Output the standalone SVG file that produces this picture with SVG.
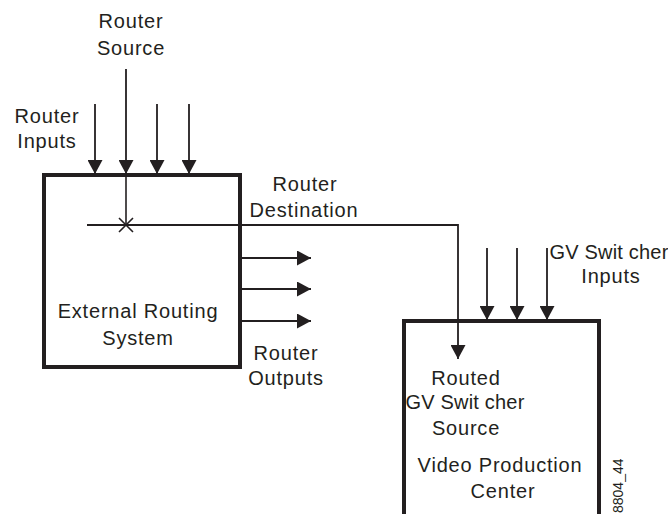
<svg xmlns="http://www.w3.org/2000/svg" width="668" height="514" viewBox="0 0 668 514">
<defs>
<style>
text{font-family:"Liberation Sans",Arial,sans-serif;font-size:20px;letter-spacing:0.8px;fill:#231f20;text-anchor:middle}
.gv{letter-spacing:0.2px}
.box{fill:#fff;stroke:#231f20;stroke-width:4}
.ln{fill:none;stroke:#231f20;stroke-width:1.6}
.arr{fill:none;stroke:#231f20;stroke-width:1.8;marker-end:url(#ah)}
.small{font-size:14px;letter-spacing:0;text-anchor:start}
</style>
<marker id="ah" markerUnits="userSpaceOnUse" markerWidth="14" markerHeight="15" viewBox="0 0 14 15" refX="14" refY="7.5" orient="auto">
<path d="M0,0 L14,7.5 L0,15 Z" fill="#231f20"/>
</marker>
</defs>
<g id="external-routing-system">
<rect class="box" x="44" y="175" width="196" height="192"/>
<text x="138" y="318">External Routing</text>
<text x="138" y="345">System</text>
</g>
<g id="video-production-center">
<rect class="box" x="404" y="321" width="195" height="220"/>
<text x="466" y="385">Routed</text>
<text class="gv" x="465" y="409">GV Swit cher</text>
<text x="466" y="435">Source</text>
<text x="500" y="472">Video Production</text>
<text x="503" y="498">Center</text>
</g>
<g id="labels">
<text x="131" y="28">Router</text>
<text x="131" y="55">Source</text>
<text x="47" y="123">Router</text>
<text x="47" y="148">Inputs</text>
<text x="305" y="191">Router</text>
<text x="304" y="217">Destination</text>
<text x="286" y="360">Router</text>
<text x="286" y="385">Outputs</text>
<text class="gv" x="609" y="259">GV Swit cher</text>
<text x="611" y="283">Inputs</text>
<text class="small" transform="translate(623,513) rotate(-90)">8804_44</text>
</g>
<g id="connectors">
<line class="arr" x1="95" y1="104" x2="95" y2="174"/>
<line class="arr" x1="126" y1="69" x2="126" y2="174"/>
<line class="arr" x1="157" y1="104" x2="157" y2="174"/>
<line class="arr" x1="189" y1="104" x2="189" y2="174"/>
<line class="ln" x1="126" y1="174" x2="126" y2="225"/>
<path class="ln" d="M119,218 L133,232 M119,232 L133,218"/>
<path class="arr" d="M87,225 H458 V359"/>
<line class="arr" x1="241" y1="258" x2="311" y2="258"/>
<line class="arr" x1="241" y1="289" x2="311" y2="289"/>
<line class="arr" x1="241" y1="321" x2="311" y2="321"/>
<line class="arr" x1="487" y1="248" x2="487" y2="320"/>
<line class="arr" x1="517" y1="248" x2="517" y2="320"/>
<line class="arr" x1="547" y1="248" x2="547" y2="320"/>
</g>
</svg>
